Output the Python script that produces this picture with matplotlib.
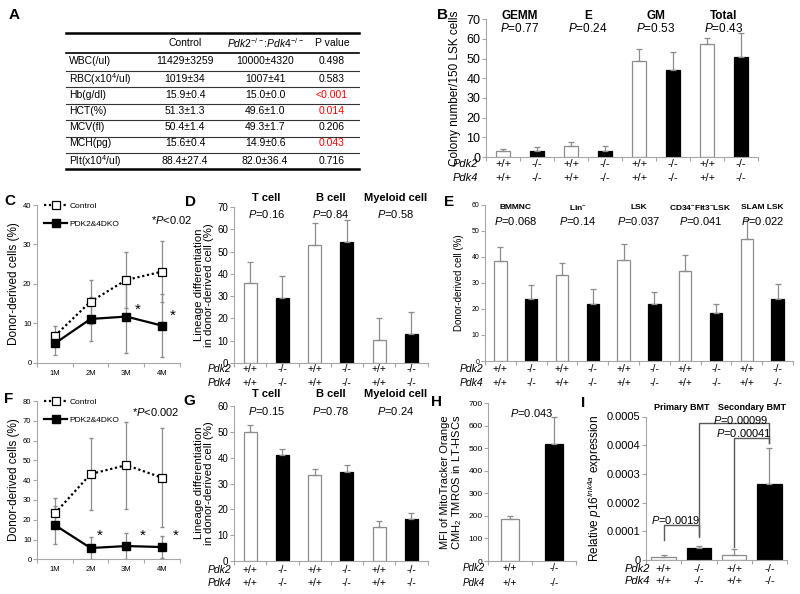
import numpy as np
import matplotlib
matplotlib.use('Agg')
import matplotlib.pyplot as plt
from matplotlib.ticker import FuncFormatter

plt.rcParams['font.family'] = ['Liberation Sans', 'DejaVu Sans']
plt.rcParams['mathtext.fontset'] = 'custom'
plt.rcParams['mathtext.rm'] = 'Liberation Sans'
plt.rcParams['mathtext.it'] = 'Liberation Sans:italic'
plt.rcParams['mathtext.bf'] = 'Liberation Sans:bold'

# ---- data ----
# A: blood counts table
tbl_rows = ["WBC(/ul)", "RBC(x10$^4$/ul)", "Hb(g/dl)", "HCT(%)", "MCV(fl)", "MCH(pg)", "Plt(x10$^4$/ul)"]
tbl_control = ["11429±3259", "1019±34", "15.9±0.4", "51.3±1.3", "50.4±1.4", "15.6±0.4", "88.4±27.4"]
tbl_dko = ["10000±4320", "1007±41", "15.0±0.0", "49.6±1.0", "49.3±1.7", "14.9±0.6", "82.0±36.4"]
tbl_p = ["0.498", "0.583", "<0.001", "0.014", "0.206", "0.043", "0.716"]
tbl_sig = [False, False, True, True, False, True, False]

# B: colony assay
b_groups = ["GEMM", "E", "GM", "Total"]
b_p = ["0.77", "0.24", "0.53", "0.43"]
b_vals = [2.9, 3.2, 5.8, 3.2, 48.8, 44.2, 57.4, 50.6]
b_err = [1.0, 1.7, 2.0, 2.2, 5.9, 9.1, 2.9, 12.3]

# C / F: transplantation time course
months = ["1M", "2M", "3M", "4M"]
c_ctrl = [6.8, 15.5, 21.0, 23.1]
c_ctrl_err = [2.5, 5.6, 7.0, 7.8]
c_ko = [4.9, 11.1, 11.7, 9.4]
c_ko_err = [3.0, 5.5, 9.3, 8.0]
f_ctrl = [23.2, 43.1, 47.6, 41.2]
f_ctrl_err = [7.6, 18.0, 22.0, 25.0]
f_ko = [17.3, 5.7, 6.7, 6.2]
f_ko_err = [9.6, 5.7, 6.4, 5.6]

# D / G: lineage differentiation
lin_groups = ["T cell", "B cell", "Myeloid cell"]
d_p = ["0.16", "0.84", "0.58"]
d_vals = [35.7, 29.0, 52.9, 54.4, 10.3, 13.0]
d_err = [9.7, 10.0, 9.7, 9.6, 9.7, 9.7]
g_p = ["0.15", "0.78", "0.24"]
g_vals = [50.0, 41.0, 33.2, 34.5, 13.0, 16.2]
g_err = [2.6, 2.3, 2.4, 2.5, 2.5, 2.2]

# E: donor-derived populations
e_groups = ["BMMNC", "Lin$^{-}$", "LSK", "CD34$^{-}$Flt3$^{-}$LSK", "SLAM LSK"]
e_p = ["0.068", "0.14", "0.037", "0.041", "0.022"]
e_vals = [38.5, 23.7, 33.2, 21.9, 38.8, 22.0, 34.6, 18.3, 46.9, 23.8]
e_err = [5.2, 5.4, 4.6, 5.9, 6.2, 4.7, 6.2, 3.7, 7.7, 5.8]

# H: MitoTracker MFI
h_vals = [186, 517]
h_err = [15, 120]

# I: p16 expression
i_groups = ["Primary BMT", "Secondary BMT"]
i_vals = [0.000010, 0.000041, 0.000016, 0.000265]
i_err = [0.000008, 0.000008, 0.000022, 0.000124]
# brackets: x1, x2, bar height, left leg end, right leg end, label, label x, label y
i_brackets = [
    (0, 1, 0.000122, 0.000070, 0.000087, "0.0019", 0.33, 0.000138),
    (1, 3, 0.000476, 0.000081, 0.000409, "0.00099", 2.2, 0.000487),
    (2, 3, 0.000424, 0.000046, 0.000409, "0.00041", 2.27, 0.000441),
]

GRAY = '#8c8c8c'
AXC = '#a6a6a6'

fig = plt.figure(figsize=(8, 5.94), dpi=100)


def box(l, t, r, b):
    return [l / 800, 1 - b / 594, (r - l) / 800, (b - t) / 594]


def style_axes(ax, ymax, step, fs):
    for s in ['top', 'right']:
        ax.spines[s].set_visible(False)
    for s in ['left', 'bottom']:
        ax.spines[s].set_color(AXC)
        ax.spines[s].set_linewidth(0.8)
    ax.set_ylim(0, ymax)
    ax.set_yticks(np.arange(0, ymax + step / 2, step))
    ax.tick_params(axis='y', direction='out', length=3, width=0.8, color=AXC, labelsize=fs, pad=1)


def bar_panel(ax, vals, errs, ymax, step, fs, width=0.4):
    n = len(vals)
    x = np.arange(n)
    fills = ['white' if i % 2 == 0 else 'black' for i in range(n)]
    edges = [GRAY if i % 2 == 0 else 'black' for i in range(n)]
    ax.bar(x, vals, width, color=fills, edgecolor=edges, linewidth=0.9, zorder=2)
    ax.errorbar(x, vals, yerr=[np.zeros(n), errs], fmt='none', ecolor=GRAY,
                elinewidth=0.9, capsize=2, capthick=0.9, zorder=3)
    ax.set_xlim(-0.5, n - 0.5)
    ax.set_xticks(np.arange(-0.5, n, 1.0))
    ax.set_xticklabels([])
    ax.tick_params(axis='x', direction='out', length=3, width=0.8, color=AXC)
    style_axes(ax, ymax, step, fs)


def geno(ax, n, dy1, dy2, dx, fs):
    for i in range(n):
        lab = '+/+' if i % 2 == 0 else '-/-'
        for dy in (dy1, dy2):
            ax.annotate(lab, xy=(i, 0), xycoords=('data', 'axes fraction'), xytext=(0, -dy),
                        textcoords='offset pixels', ha='center', va='center', fontsize=fs,
                        annotation_clip=False)
    for name, dy in (('Pdk2', dy1), ('Pdk4', dy2)):
        ax.annotate(name, xy=(0, 0), xycoords='axes fraction', xytext=(dx, -dy),
                    textcoords='offset pixels', ha='right', va='center', fontsize=fs,
                    style='italic', annotation_clip=False)


def titles(ax, names, pvals, yn, yp, fsn, fsp):
    for k, nm in enumerate(names):
        ax.text(2 * k + 0.5, yn, nm, transform=ax.get_xaxis_transform(), ha='center', va='center',
                fontsize=fsn, fontweight='bold', clip_on=False)
        if pvals is not None:
            ax.text(2 * k + 0.5, yp, '$P$=' + pvals[k], transform=ax.get_xaxis_transform(),
                    ha='center', va='center', fontsize=fsp, clip_on=False)


def line_panel(ax, ctrl, ctrl_err, ko, ko_err, ymax, fs):
    x = np.arange(len(months))
    ax.errorbar(x, ctrl, yerr=ctrl_err, fmt='none', ecolor=GRAY, elinewidth=0.9, capsize=1.5, zorder=1)
    ax.errorbar(x, ko, yerr=ko_err, fmt='none', ecolor=GRAY, elinewidth=0.9, capsize=1.5, zorder=1)
    ax.plot(x, ctrl, ls=(0, (1, 1.2)), color='black', lw=1.6, marker='s', ms=5.5,
            mfc='white', mec='black', mew=0.9, label='Control', zorder=3)
    ax.plot(x, ko, ls='-', color='black', lw=1.6, marker='s', ms=5.5,
            mfc='black', mec='black', label='PDK2&4DKO', zorder=3)
    ax.set_xlim(-0.5, len(months) - 0.5)
    ax.set_xticks(x)
    ax.set_xticklabels(months)
    ax.set_xticks(np.arange(-0.5, len(months), 1.0), minor=True)
    ax.tick_params(axis='x', which='major', length=0, labelsize=fs, pad=5)
    ax.tick_params(axis='x', which='minor', direction='out', length=3, width=0.8, color=AXC)
    style_axes(ax, ymax, 10, fs)
    ax.legend(loc='upper left', bbox_to_anchor=(0.05, 1.02), frameon=False, fontsize=6,
              handlelength=2.8, handletextpad=0.2, labelspacing=1.2, borderpad=0, borderaxespad=0)


# ---- B ----
axB = fig.add_axes(box(486, 19.3, 758, 157))
bar_panel(axB, b_vals, b_err, 70, 10, 9)
geno(axB, 8, 7, 21, -8, 8)
titles(axB, b_groups, b_p, 1.025, 0.935, 8.5, 8.5)

# ---- C ----
axC = fig.add_axes(box(37, 205, 180, 362.7))
line_panel(axC, c_ctrl, c_ctrl_err, c_ko, c_ko_err, 40, 5.5)
axC.text(0.94, 0.905, '*$P$<0.02', transform=axC.transAxes, ha='center', va='center', fontsize=8)
axC.text(2.33, 13.4, '*', ha='center', va='center', fontsize=11)
axC.text(3.3, 11.9, '*', ha='center', va='center', fontsize=11)

# ---- D ----
axD = fig.add_axes(box(234, 207, 427.6, 363))
bar_panel(axD, d_vals, d_err, 70, 10, 7)
geno(axD, 6, 6, 20, -3, 7.5)
titles(axD, lin_groups, d_p, 1.06, 0.955, 8, 8)

# ---- E ----
axE = fig.add_axes(box(485, 205, 793, 361))
bar_panel(axE, e_vals, e_err, 60, 10, 5)
geno(axE, 10, 8, 22, -2, 7.5)
titles(axE, e_groups, e_p, 0.985, 0.9, 6, 8)

# ---- F ----
axF = fig.add_axes(box(37, 401, 180, 559.3))
line_panel(axF, f_ctrl, f_ctrl_err, f_ko, f_ko_err, 80, 5.5)
axF.text(0.83, 0.932, '*$P$<0.002', transform=axF.transAxes, ha='center', va='center', fontsize=8)
for sx in (1.26, 2.47, 3.39):
    axF.text(sx, 11.8, '*', ha='center', va='center', fontsize=11)

# ---- G ----
axG = fig.add_axes(box(234, 406, 427.6, 561))
bar_panel(axG, g_vals, g_err, 60, 10, 7)
geno(axG, 6, 9, 22, -3, 7.5)
titles(axG, lin_groups, g_p, 1.08, 0.97, 8, 8)

# ---- H ----
axH = fig.add_axes(box(488, 403, 576, 561))
bar_panel(axH, h_vals, h_err, 700, 100, 6)
geno(axH, 2, 7, 22, -3, 7)
axH.text(0.5, 656, '$P$=0.043', ha='center', va='center', fontsize=8)

# ---- I ----
axI = fig.add_axes(box(646, 416.5, 787, 560))
bar_panel(axI, i_vals, i_err, 0.0005, 0.0001, 8, width=0.69)
axI.yaxis.set_major_formatter(FuncFormatter(lambda v, p: '0' if v == 0 else f'{v:.4f}'))
geno(axI, 4, 9, 21, 4, 8)
for k, nm in enumerate(i_groups):
    axI.text(2 * k + 0.5, 1.065, nm, transform=axI.get_xaxis_transform(), ha='center', va='center',
             fontsize=6.5, fontweight='bold', clip_on=False)
for x1, x2, yb, l1, l2, lab, lx, ly in i_brackets:
    axI.plot([x1, x1, x2, x2], [l1, yb, yb, l2], color='#595959', lw=1, clip_on=False, zorder=4)
    axI.text(lx, ly, '$P$=' + lab, ha='center', va='center', fontsize=8, zorder=5)

# ---- overlay: table A, panel letters, y labels ----
ov = fig.add_axes([0, 0, 1, 1])
ov.set_xlim(0, 800)
ov.set_ylim(594, 0)
ov.axis('off')

for lab, (px, py) in zip("ABCDEFGHI", [(14, 15), (442, 15), (10, 201), (191, 202), (449, 202),
                                       (9, 399), (189, 401), (437, 402), (583, 403)]):
    ov.text(px, py, lab, fontsize=11, fontweight='bold', ha='center', va='center')

ov.plot([66, 359], [33.3, 33.3], color='black', lw=1.8)
ov.plot([66, 359], [53.3, 53.3], color='black', lw=1.2)
for yy in [71, 87.3, 104, 120, 136.7, 152.7]:
    ov.plot([66, 359], [yy, yy], color='#333333', lw=0.8)
ov.plot([66, 359], [169.3, 169.3], color='black', lw=1.8)
ov.text(185, 42.7, 'Control', ha='center', va='center', fontsize=7.5)
ov.text(265, 42.7, r'$\mathit{Pdk2}^{-/-}$:$\mathit{Pdk4}^{-/-}$', ha='center', va='center', fontsize=7.5)
ov.text(332, 42.7, 'P value', ha='center', va='center', fontsize=7.5)
row_y = [61, 78.7, 95, 111, 127.3, 143.3, 161.3]
for k in range(len(tbl_rows)):
    ov.text(69, row_y[k], tbl_rows[k], ha='left', va='center', fontsize=7.5)
    ov.text(185, row_y[k], tbl_control[k], ha='center', va='center', fontsize=7.5)
    ov.text(265, row_y[k], tbl_dko[k], ha='center', va='center', fontsize=7.5)
    ov.text(332, row_y[k], tbl_p[k], ha='center', va='center', fontsize=7.5,
            color='red' if tbl_sig[k] else 'black')

ov.text(455, 88, 'Colony number/150 LSK cells', rotation=90, ha='center', va='center', fontsize=8.5)
ov.text(14, 284, 'Donor-derived cells (%)', rotation=90, ha='center', va='center', fontsize=8.5)
ov.text(14, 480, 'Donor-derived cells (%)', rotation=90, ha='center', va='center', fontsize=8.5)
ov.text(204, 285, 'Lineage differentiation\nin donor-derived cell (%)', rotation=90, ha='center',
        va='center', fontsize=8.2, linespacing=1.0)
ov.text(204, 483, 'Lineage differentiation\nin donor-derived cell (%)', rotation=90, ha='center',
        va='center', fontsize=8.2, linespacing=1.0)
ov.text(459, 283, 'Donor-derived cell (%)', rotation=90, ha='center', va='center', fontsize=7)
ov.text(452, 482, 'MFI of MitoTracker Orange\nCMH$_2$ TMROS in LT-HSCs', rotation=90, ha='center',
        va='center', fontsize=8, linespacing=1.0)
ov.text(595, 488, 'Relative $p16^{Ink4a}$ expression', rotation=90, ha='center', va='center', fontsize=8.5)

fig.savefig('out.png', dpi=100)
